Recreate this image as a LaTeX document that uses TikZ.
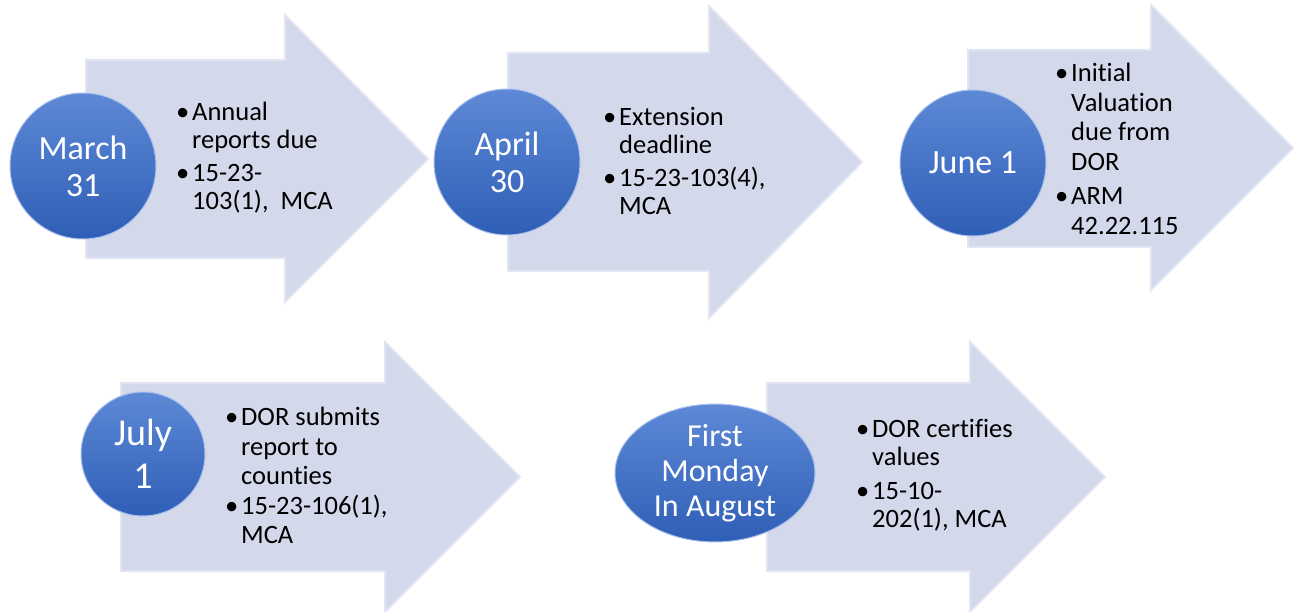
\documentclass[tikz,border=0pt]{standalone}
\usepackage{fontspec}
\setmainfont{Carlito}[Ligatures=CommonOff]
\usetikzlibrary{shapes,shapes.geometric,positioning,calc}
\usepackage{xcolor}

\definecolor{arrowfill}{HTML}{D3D8EA}
\definecolor{arrowedge}{HTML}{E1E5F3}
\definecolor{balltop}{HTML}{5D89D6}
\definecolor{ballbottom}{HTML}{2F5EB6}
\definecolor{balledge}{HTML}{A9C1EC}

\begin{document}
\begin{tikzpicture}[x=1pt,y=-1pt]

	\tikzstyle{datearrow}=[draw=arrowedge, fill=arrowfill, line width=2pt];
	\tikzstyle{datecircle}=[circle, top color=balltop, bottom color=ballbottom, draw=balledge, line width=1pt, inner sep=0, minimum size=146, text=white, align=center, font=\fontsize{34}{37}\selectfont];
	\tikzstyle{bullets}=[anchor=north west, inner sep=0, font=\fontsize{26.5}{28}\selectfont];
    \begin{scope}

    	\useasboundingbox (0,0) rectangle (1296,612);

    	% top row
    	\draw[datearrow] (86,60) -- (285,60) -- (285,15) -- (428,159) -- (285,302) -- (285,258) -- (86,258) -- cycle;
    	\draw[datearrow] (508,53) -- (709,53) -- (709,6) -- (862,162) -- (709,318) -- (709,271) -- (508,271) -- cycle;
    	\draw[datearrow] (968,50) -- (1151,50) -- (1151,5) -- (1293,148) -- (1151,290) -- (1151,247) -- (968,247) -- cycle;

    	\node (march) at (83,166) [datecircle]{March\\31};
    	\node (april) at (507,162) [datecircle]{April\\30};
    	\node (june) at (973,163) [datecircle]{June 1};

    	\node (march_text) at (176,101) [bullets]{\begin{tabular}{@{}l@{}l@{}}
    		\makebox[16pt][l]{\textbullet} & Annual\\ & reports due\\[5pt]
    		\makebox[16pt][l]{\textbullet} & 15-23-\\ & 103(1),\ \ MCA\end{tabular}};
    	\node (april_text) at (603,106) [bullets]{\begin{tabular}{@{}l@{}l@{}}
    		\makebox[16pt][l]{\textbullet} & Extension\\ & deadline\\[5pt]
    		\makebox[16pt][l]{\textbullet} & 15-23-103(4),\\ & MCA\end{tabular}};
    	\node (june_text) at (1055,61) [bullets, font=\fontsize{26.5}{29.5}\selectfont]{\begin{tabular}{@{}l@{}l@{}}
    		\makebox[16pt][l]{\textbullet} & Initial\\ & Valuation\\ & due from\\ & DOR\\[5pt]
    		\makebox[16pt][l]{\textbullet} & ARM\\ & 42.22.115\end{tabular}};

    	% bottom row
    	\draw[datearrow] (121,383) -- (385,383) -- (385,342) -- (520,477) -- (385,612) -- (385,571) -- (121,571) -- cycle;
    	\draw[datearrow] (767,383) -- (970,383) -- (970,342) -- (1105,477) -- (970,612) -- (970,571) -- (767,571) -- cycle;

    	\node (july) at (143,454) [datecircle, minimum size=124, font=\fontsize{38}{43}\selectfont]{July\\1};
    	\node (august) at (715,473) [datecircle, ellipse, minimum width=200, minimum height=125, font=\fontsize{32}{35}\selectfont]{First\\Monday\\In August};

    	\node (july_text) at (225,405) [bullets, font=\fontsize{26.5}{29.5}\selectfont]{\begin{tabular}{@{}l@{}l@{}}
    		\makebox[16pt][l]{\textbullet} & DOR submits\\ & report to\\ & counties\\
    		\makebox[16pt][l]{\textbullet} & 15-23-106(1),\\ & MCA\end{tabular}};
    	\node (august_text) at (856,418) [bullets]{\begin{tabular}{@{}l@{}l@{}}
    		\makebox[16pt][l]{\textbullet} & DOR certifies\\ & values\\[6pt]
    		\makebox[16pt][l]{\textbullet} & 15-10-\\ & 202(1), MCA\end{tabular}};

    \end{scope}
    \end{tikzpicture}
\end{document}
